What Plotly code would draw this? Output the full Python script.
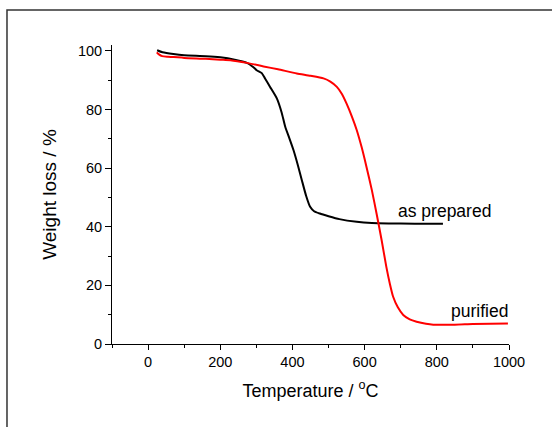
import plotly.graph_objects as go

# As prepared (black)
temp_prepared = [25, 40, 70, 100, 160, 200, 240, 274, 290, 301, 315, 324, 338, 357, 370, 380,
                 392, 403, 415, 426, 438, 449, 460, 476, 500, 530, 578, 620, 700, 780, 817]
wt_prepared = [100.2, 99.5, 98.9, 98.5, 98.2, 97.8, 97.0, 95.9, 94.6, 93.4, 92.4, 90.6, 87.7, 83.7,
               79.0, 74.1, 70.0, 66.1, 61.0, 55.9, 50.5, 46.8, 45.3, 44.5, 43.6, 42.6, 41.7, 41.3,
               41.1, 41.0, 41.0]

# Purified (red)
temp_purified = [24, 30, 39, 55, 71, 100, 160, 200, 228, 274, 320, 360, 412, 450, 486, 505, 523,
                 537, 550, 565, 578, 592, 605, 620, 633, 647, 660, 670, 679, 692, 707, 725, 744,
                 770, 790, 850, 900, 997]
wt_purified = [99.5, 98.8, 98.2, 98.0, 97.9, 97.6, 97.3, 97.0, 96.8, 95.9, 94.7, 93.7, 92.3, 91.5,
               90.6, 89.5, 87.7, 85.3, 82.0, 77.5, 73.0, 67.0, 60.5, 52.5, 44.5, 35.5, 26.4, 20.5,
               16.1, 12.5, 9.9, 8.4, 7.6, 6.9, 6.6, 6.6, 6.8, 7.0]

labels = ["as prepared", "purified"]
label_x = [820, 919]
label_y = [45.5, 11.2]

x_ticks = [0, 200, 400, 600, 800, 1000]
y_ticks = [0, 20, 40, 60, 80, 100]

FONT = "Liberation Sans, Arial, sans-serif"

fig = go.Figure()
fig.add_trace(go.Scatter(x=temp_prepared, y=wt_prepared, mode="lines",
                         line=dict(color="black", width=2, shape="spline", smoothing=0.6),
                         name=labels[0], showlegend=False))
fig.add_trace(go.Scatter(x=temp_purified, y=wt_purified, mode="lines",
                         line=dict(color="#ff0000", width=2, shape="spline", smoothing=0.6),
                         name=labels[1], showlegend=False))

for t, xx, yy in zip(labels, label_x, label_y):
    fig.add_annotation(x=xx, y=yy, text=t, showarrow=False,
                       font=dict(family=FONT, size=17.5, color="black"))

# outer frame
fig.add_shape(type="rect", xref="paper", yref="paper", x0=-0.2645, x1=1.3, y0=-0.4, y1=1.117,
              line=dict(color="#333333", width=1.5), fillcolor="rgba(0,0,0,0)", layer="below")

fig.update_layout(
    width=552, height=427,
    margin=dict(l=112, r=43, t=45, b=83),
    paper_bgcolor="white", plot_bgcolor="white",
    font=dict(family=FONT, color="black"),
    xaxis=dict(range=[-100, 1000], tickvals=x_ticks, ticks="outside", ticklen=5, tickwidth=1,
               tickcolor="black", showline=True, linecolor="black", linewidth=1,
               showgrid=False, zeroline=False, tickfont=dict(size=14.5),
               minor=dict(ticks="outside", ticklen=3, tickwidth=1, tickcolor="black",
                          tickvals=[-100, 100, 300, 500, 700, 900], showgrid=False),
               title=dict(text="Temperature / <sup>o</sup>C", font=dict(size=18), standoff=14)),
    yaxis=dict(range=[0, 102], tickvals=y_ticks, ticks="outside", ticklen=6, tickwidth=1,
               tickcolor="black", showline=True, linecolor="black", linewidth=1,
               showgrid=False, zeroline=False, tickfont=dict(size=14.5),
               minor=dict(ticks="outside", ticklen=3, tickwidth=1, tickcolor="black",
                          tickvals=[10, 30, 50, 70, 90], showgrid=False),
               title=dict(text="Weight loss / %", font=dict(size=19), standoff=16)),
)

fig.write_html("out.html")
